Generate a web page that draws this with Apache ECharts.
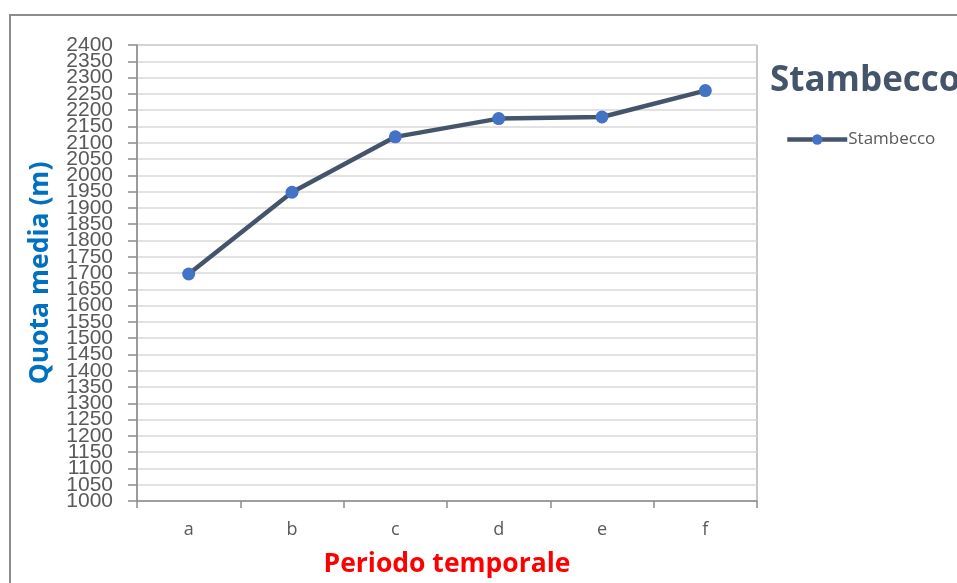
<!DOCTYPE html>
<html>
<head>
<meta charset="utf-8">
<title>Stambecco</title>
<script src="https://cdn.jsdelivr.net/npm/echarts@6/dist/echarts.min.js"></script>
<style>
  html, body { margin: 0; padding: 0; background: #ffffff; }
  #chart { width: 957px; height: 583px; }
</style>
</head>
<body>
<div id="chart"></div>
<script>
// Periods and mean altitude (m) of the ibex
const periods = ['a', 'b', 'c', 'd', 'e', 'f'];
const quotaMedia = [1697, 1948, 2118, 2174, 2179, 2260];
const seriesName = 'Stambecco';
const yMin = 1000, yMax = 2400, yStep = 50;
// Altitude tick labels, bottom to top
const yTickLabels = ['1000', '1050', '1100', '1150', '1200', '1250', '1300', '1350', '1400', '1450',
  '1500', '1550', '1600', '1650', '1700', '1750', '1800', '1850', '1900', '1950', '2000', '2050',
  '2100', '2150', '2200', '2250', '2300', '2350', '2400'];

const chart = echarts.init(document.getElementById('chart'), null, { renderer: 'canvas' });

chart.setOption({
  backgroundColor: '#ffffff',
  animation: false,
  title: {
    text: seriesName,
    left: 765,
    top: 59,
    textStyle: { fontFamily: 'Open Sans', fontWeight: 'bold', fontSize: 35, color: '#44546a' }
  },
  legend: {
    data: [seriesName],
    left: 780,
    top: 126,
    itemWidth: 60,
    itemHeight: 13,
    itemGap: 4,
    lineStyle: { width: 4.5 },
    textStyle: { fontFamily: 'Open Sans', fontSize: 17, color: '#595959', padding: [0, 0, 0, -4] }
  },
  graphic: [{
    type: 'rect',
    shape: { x: 10, y: 15, width: 1000, height: 620 },
    style: { fill: 'none', stroke: '#8c8c8c', lineWidth: 2 },
    silent: true,
    z: -1
  }],
  grid: {
    left: 137,
    right: 200,
    top: 45,
    bottom: 79,
    show: true,
    borderColor: '#8c8c8c',
    borderWidth: 1
  },
  xAxis: {
    type: 'category',
    data: periods,
    boundaryGap: true,
    name: 'Periodo temporale',
    nameLocation: 'middle',
    nameGap: 50,
    nameTextStyle: { fontFamily: 'Open Sans', fontWeight: 'bold', fontSize: 26.5, color: '#ff0000' },
    axisLine: { lineStyle: { color: '#8c8c8c', width: 1.5 } },
    axisTick: { show: true, length: 7, lineStyle: { color: '#8c8c8c', width: 1.5 } },
    axisLabel: { margin: 20, fontFamily: 'Open Sans', fontSize: 18, color: '#595959' },
    splitLine: { show: false }
  },
  yAxis: [{
    // value scale used by the series: line, ticks, gridlines and title
    type: 'value',
    position: 'left',
    min: yMin,
    max: yMax,
    interval: yStep,
    name: 'Quota media (m)',
    nameLocation: 'middle',
    nameGap: 83,
    nameTextStyle: { fontFamily: 'Open Sans', fontWeight: 'bold', fontSize: 26.5, color: '#0070c0' },
    axisLine: { show: true, lineStyle: { color: '#8c8c8c', width: 1.5 } },
    axisTick: { show: true, length: 9, lineStyle: { color: '#8c8c8c', width: 1.5 } },
    axisLabel: { show: false },
    splitLine: { show: true, lineStyle: { color: '#d9d9d9', width: 1.5 } }
  }, {
    // tick label column, every label drawn even where they crowd
    type: 'category',
    position: 'left',
    offset: 0,
    data: yTickLabels,
    boundaryGap: false,
    axisLine: { show: false },
    axisTick: { show: false },
    splitLine: { show: false },
    axisLabel: {
      interval: 0,
      margin: 24,
      fontFamily: "'Liberation Sans', sans-serif",
      fontSize: 21,
      color: '#595959'
    }
  }],
  series: [{
    name: seriesName,
    type: 'line',
    yAxisIndex: 0,
    data: quotaMedia,
    symbol: 'circle',
    symbolSize: 13,
    lineStyle: { color: '#44546a', width: 4.5 },
    itemStyle: { color: '#4472c4' }
  }]
});
</script>
</body>
</html>
